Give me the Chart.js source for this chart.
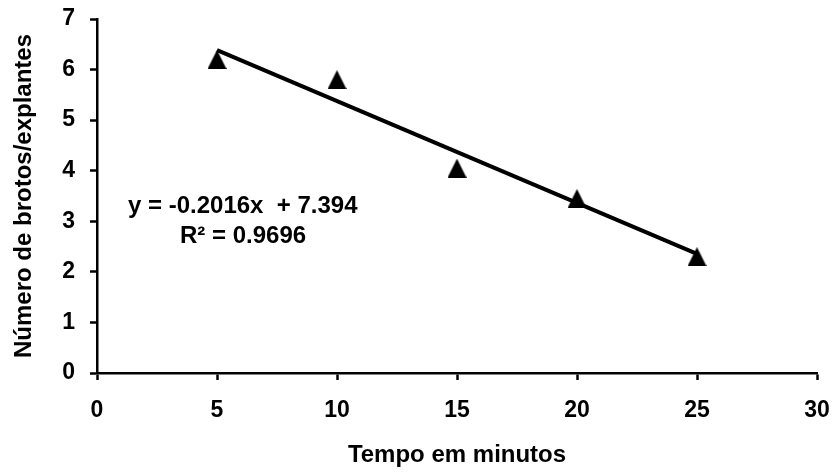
<!DOCTYPE html>
<html>
<head>
<meta charset="utf-8">
<script src="https://cdn.jsdelivr.net/npm/chart.js@4/dist/chart.umd.min.js"></script>
<style>
  html, body { margin: 0; padding: 0; background: #fff; }
  #wrap { width: 834px; height: 472px; position: relative; }
</style>
</head>
<body>
<div id="wrap"><canvas id="c" width="834" height="472"></canvas></div>
<script>
// ---- data ----
const tempos = [5, 10, 15, 20, 25];
const brotos = [6.2, 5.8, 4.05, 3.45, 2.3];
const xTickRange = [0, 30, 5];
const yTickRange = [0, 7, 1];
const trendSlope = -0.2016;
const trendIntercept = 7.394;
const trendXs = [5, 25];
const equationLines = ["y = -0.2016x  + 7.394", "R\u00B2 = 0.9696"];
const xTitle = "Tempo em minutos";
const yTitle = "Número de brotos/explantes";

const FONT = "'Liberation Sans', Arial, sans-serif";

const pointsData = tempos.map((t, i) => ({ x: t, y: brotos[i] }));
const trendData = trendXs.map(x => ({ x: x, y: trendSlope * x + trendIntercept }));

// Excel-like triangle marker (centered on its bounding box)
function makeTriangle(w, h) {
  const cv = document.createElement('canvas');
  cv.width = w; cv.height = h;
  const g = cv.getContext('2d');
  g.fillStyle = '#000';
  g.beginPath();
  g.moveTo(w / 2, 0);
  g.lineTo(w, h);
  g.lineTo(0, h);
  g.closePath();
  g.fill();
  return cv;
}
const triangleMarker = makeTriangle(19, 19);

const equationPlugin = {
  id: 'equation',
  afterDraw(chart) {
    const ctx = chart.ctx;
    ctx.save();
    ctx.fillStyle = '#000';
    ctx.font = "bold 24px " + FONT;
    ctx.textBaseline = 'middle';
    ctx.textAlign = 'left';
    ctx.fillText(equationLines[0], 128, 206);
    ctx.fillText(equationLines[1], 180, 236);
    ctx.restore();
  }
};

new Chart(document.getElementById('c'), {
  type: 'scatter',
  data: {
    datasets: [
      {
        label: 'Trend',
        type: 'line',
        data: trendData,
        borderColor: '#000',
        borderWidth: 4,
        pointRadius: 0,
        fill: false,
        tension: 0,
        order: 2
      },
      {
        label: 'Brotos',
        data: pointsData,
        pointStyle: triangleMarker,
        pointRadius: 10,
        pointHoverRadius: 10,
        backgroundColor: '#000',
        borderColor: '#000',
        order: 1
      }
    ]
  },
  options: {
    responsive: false,
    animation: false,
    layout: { padding: { top: 19, right: 17, left: 0, bottom: 0 } },
    plugins: { legend: { display: false }, tooltip: { enabled: false } },
    scales: {
      x: {
        type: 'linear',
        min: xTickRange[0], max: xTickRange[1],
        ticks: { stepSize: xTickRange[2], color: '#000', padding: 17,
                 font: { family: FONT, size: 23, weight: 'bold' }, maxRotation: 0 },
        grid: { drawOnChartArea: false, tickLength: 7, tickColor: '#000', tickWidth: 2.5 },
        border: { display: true, color: '#000', width: 2.5 },
        title: { display: true, text: xTitle, color: '#000', padding: { top: 0, bottom: 2 },
                 font: { family: FONT, size: 24, weight: 'bold' } },
        afterFit(scale) { scale.height = 99; scale.paddingLeft = 0; scale.paddingRight = 0; }
      },
      y: {
        type: 'linear',
        min: yTickRange[0], max: yTickRange[1],
        ticks: { stepSize: yTickRange[2], color: '#000', padding: 15,
                 font: { family: FONT, size: 23, weight: 'bold' } },
        grid: { drawOnChartArea: false, tickLength: 7, tickColor: '#000', tickWidth: 2.5 },
        border: { display: true, color: '#000', width: 2.5 },
        title: { display: true, text: yTitle, color: '#000', padding: { top: 10, bottom: 0 },
                 font: { family: FONT, size: 24, weight: 'bold' } },
        afterFit(scale) { scale.width = 97; scale.paddingTop = 0; scale.paddingBottom = 0; }
      }
    }
  },
  plugins: [equationPlugin]
});
</script>
</body>
</html>
